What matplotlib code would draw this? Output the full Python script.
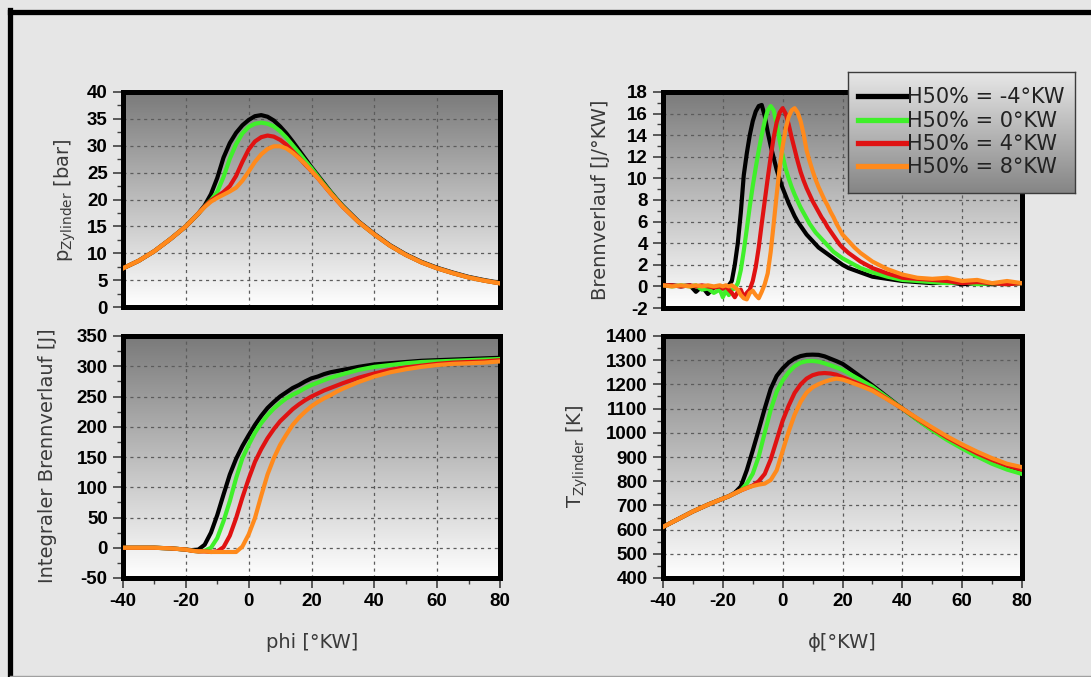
import numpy as np
import matplotlib

matplotlib.use("Agg")
import matplotlib.pyplot as plt
from matplotlib.lines import Line2D
from matplotlib.colors import LinearSegmentedColormap
from matplotlib.ticker import AutoMinorLocator

W, H = 1091, 677

labels = ["H50% = -4°KW", "H50% = 0°KW", "H50% = 4°KW", "H50% = 8°KW"]
colors = ["#000000", "#3ff02a", "#e01212", "#ff8a1c"]

# crank angle grid used for p, integral and T
phi = [-40, -35, -30, -25, -20, -18, -16, -14, -12, -10, -8, -6, -4, -2, 0, 2, 4, 6, 8, 10,
       12, 14, 16, 18, 20, 22, 24, 26, 28, 30, 35, 40, 45, 50, 55, 60, 65, 70, 75, 80]

p_m4 = [7.2, 8.6, 10.4, 12.6, 15.0, 16.2, 17.4, 18.9, 21.0, 24.0, 27.8, 30.5, 32.4, 33.8, 34.8, 35.5, 35.7, 35.4, 34.7, 33.6,
        32.3, 30.8, 29.2, 27.6, 26.0, 24.5, 23.0, 21.5, 20.1, 18.8, 15.9, 13.6, 11.5, 9.8, 8.4, 7.3, 6.4, 5.6, 5.0, 4.5]
p_0 = [7.2, 8.6, 10.4, 12.6, 15.0, 16.2, 17.4, 18.7, 19.9, 21.4, 24.2, 27.6, 30.3, 32.3, 33.5, 34.1, 34.3, 34.1, 33.6, 32.7,
       31.5, 30.1, 28.7, 27.2, 25.8, 24.3, 22.8, 21.4, 20.0, 18.7, 15.8, 13.5, 11.4, 9.7, 8.3, 7.2, 6.3, 5.5, 4.9, 4.4]
p_4 = [7.2, 8.6, 10.4, 12.6, 15.0, 16.2, 17.4, 18.7, 19.8, 20.6, 21.4, 22.5, 24.4, 27.0, 29.3, 30.8, 31.6, 31.9, 31.7, 31.1,
       30.2, 29.0, 27.8, 26.5, 25.3, 24.0, 22.6, 21.2, 19.9, 18.6, 15.8, 13.5, 11.4, 9.7, 8.3, 7.2, 6.3, 5.5, 4.9, 4.4]
p_8 = [7.2, 8.6, 10.4, 12.6, 15.0, 16.2, 17.4, 18.6, 19.6, 20.3, 20.9, 21.5, 22.2, 23.5, 25.2, 27.0, 28.4, 29.4, 29.9, 29.9,
       29.5, 28.7, 27.7, 26.6, 25.3, 24.0, 22.6, 21.2, 19.9, 18.6, 15.8, 13.5, 11.4, 9.7, 8.3, 7.2, 6.3, 5.5, 4.9, 4.4]

q_m4 = [0, 0, 0, -1, -3, -4, -3, 5, 25, 54, 88, 121, 147, 168, 186, 203, 218, 231, 241, 250,
        257, 264, 269, 275, 280, 283, 287, 290, 292, 294, 299, 303, 305, 307, 309, 310, 311, 312, 313, 314]
q_0 = [0, 0, 0, -1, -3, -5, -6, -5, 0, 16, 44, 77, 115, 148, 170, 190, 206, 219, 230, 239,
       247, 253, 258, 264, 269, 273, 277, 281, 284, 287, 294, 299, 302, 305, 307, 308, 309, 310, 311, 312]
q_4 = [0, 0, 0, -1, -3, -5, -6, -6, -7, -6, 1, 20, 49, 83, 114, 142, 163, 181, 196, 209,
       219, 229, 237, 244, 250, 255, 260, 264, 268, 272, 281, 288, 294, 298, 301, 304, 306, 307, 308, 310]
q_8 = [0, 0, 0, -1, -3, -5, -6, -6, -7, -7, -7, -7, -7, 2, 22, 49, 86, 121, 148, 170,
       187, 203, 215, 225, 234, 241, 247, 252, 258, 263, 274, 283, 290, 295, 299, 302, 304, 305, 306, 308]

T_m4 = [611, 643, 675, 703, 728, 738, 752, 778, 845, 927, 1012, 1100, 1182, 1235, 1266, 1290, 1307, 1317, 1322, 1323,
        1322, 1316, 1306, 1296, 1285, 1268, 1250, 1232, 1214, 1196, 1148, 1100, 1055, 1012, 975, 942, 910, 882, 858, 836]
T_0 = [611, 643, 675, 703, 728, 738, 750, 762, 790, 831, 902, 1000, 1095, 1170, 1216, 1250, 1275, 1290, 1296, 1297,
       1294, 1287, 1279, 1270, 1260, 1246, 1232, 1218, 1204, 1190, 1145, 1100, 1053, 1010, 970, 935, 902, 872, 848, 830]
T_4 = [611, 643, 675, 703, 728, 738, 750, 762, 772, 782, 800, 830, 890, 970, 1050, 1112, 1165, 1200, 1224, 1238,
       1245, 1247, 1245, 1240, 1230, 1220, 1210, 1200, 1189, 1178, 1140, 1100, 1058, 1018, 980, 947, 915, 888, 865, 848]
T_8 = [611, 643, 675, 703, 728, 738, 750, 762, 772, 780, 786, 790, 805, 845, 925, 1005, 1075, 1128, 1166, 1188,
       1201, 1211, 1219, 1224, 1220, 1212, 1203, 1194, 1184, 1174, 1138, 1100, 1060, 1022, 985, 952, 922, 895, 872, 858]

# finer grid for the heat release rate
phi_hr = [-40, -37, -34, -31, -29, -27, -25, -23, -21,
          -20, -19, -18, -17, -16, -15, -14, -13, -12, -11, -10, -9, -8, -7, -6, -5, -4, -3, -2, -1,
          0, 1, 2, 3, 4, 5, 6, 7, 8, 9, 10, 11, 12, 13, 14, 15, 16, 17, 18, 19, 20,
          22, 24, 26, 28, 30, 35, 40, 45, 50, 55, 60, 65, 70, 75, 80]

dq_m4 = [0.1, 0.1, 0.0, 0.1, -0.5, 0.0, -0.7, -0.1, 0.0,
         -0.2, 0.0, 0.1, 0.5, 2.0, 4.0, 6.8, 10.3, 12.3, 14.0, 15.3, 16.2, 16.7, 16.8, 15.8, 14.3, 13.0, 11.9, 10.8, 9.9,
         9.1, 8.4, 7.7, 7.1, 6.5, 6.0, 5.6, 5.2, 4.8, 4.5, 4.2, 3.9, 3.6, 3.4, 3.2, 3.0, 2.8, 2.6, 2.4, 2.2, 2.0,
         1.7, 1.5, 1.3, 1.1, 0.9, 0.7, 0.5, 0.4, 0.3, 0.4, 0.2, 0.3, 0.2, 0.3, 0.3]
dq_0 = [0.1, 0.0, 0.1, 0.0, 0.1, -0.3, -0.2, -0.6, -0.3,
        -1.0, -0.4, -0.8, -0.3, -0.2, 0.3, 1.5, 3.3, 5.3, 7.4, 9.3, 11.0, 12.6, 14.0, 15.3, 16.3, 16.7, 16.3, 15.0, 13.5,
        12.1, 10.9, 10.0, 9.2, 8.5, 7.9, 7.3, 6.8, 6.3, 5.8, 5.4, 5.0, 4.7, 4.4, 4.1, 3.8, 3.5, 3.2, 3.0, 2.8, 2.6,
        2.3, 2.0, 1.7, 1.5, 1.3, 0.9, 0.6, 0.5, 0.4, 0.3, 0.4, 0.2, 0.3, 0.2, 0.3]
dq_4 = [0.1, 0.1, 0.0, 0.1, 0.0, 0.1, 0.0, -0.1, 0.0,
        -0.2, 0.0, -0.3, -0.6, -1.0, -0.5, -0.3, -1.0, -0.6, -0.3, 0.5, 1.8, 3.6, 5.8, 7.9, 10.0, 12.0, 13.8, 15.2, 16.1,
        16.5, 16.0, 15.0, 13.8, 12.7, 11.6, 10.6, 9.8, 9.1, 8.5, 7.9, 7.4, 6.9, 6.4, 6.0, 5.5, 5.1, 4.7, 4.3, 3.9, 3.6,
        3.1, 2.7, 2.3, 2.0, 1.7, 1.2, 0.8, 0.7, 0.6, 0.5, 0.3, 0.4, 0.3, 0.2, 0.3]
dq_8 = [0.1, 0.0, 0.1, 0.0, 0.1, 0.0, 0.1, 0.0, 0.1,
        0.0, 0.1, 0.0, 0.1, -0.1, -0.3, -0.8, -1.1, -1.2, -0.6, -0.4, -0.8, -1.1, -0.5, 0.2, 1.2, 3.2, 5.8, 8.5, 11.0,
        13.0, 14.6, 15.7, 16.3, 16.5, 16.1, 15.3, 14.1, 12.6, 11.6, 10.7, 9.9, 9.2, 8.6, 8.0, 7.5, 6.9, 6.4, 5.8, 5.3, 4.8,
        4.2, 3.6, 3.1, 2.7, 2.3, 1.6, 1.1, 0.8, 0.7, 0.8, 0.5, 0.6, 0.3, 0.5, 0.3]

BG = "#e6e6e6"
TICK_FONT = dict(fontfamily="Liberation Sans", fontweight="bold", fontsize=13.5)
LABEL_FONT = dict(fontfamily="DejaVu Sans", fontsize=14, color="#3a3a3a")

plot_cmap = LinearSegmentedColormap.from_list("plotbg", ["#7a7a7a", "#ffffff"])
legend_cmap = LinearSegmentedColormap.from_list("legbg", ["#e8e8e8", "#858585"])
ramp = np.linspace(0, 1, 256).reshape(-1, 1)


def px_axes(fig, x0, y0, x1, y1):
    return fig.add_axes([x0 / W, 1 - y1 / H, (x1 - x0) / W, (y1 - y0) / H])


def style(ax, yticks, show_x):
    ax.imshow(ramp, cmap=plot_cmap, extent=[0, 1, 0, 1], transform=ax.transAxes,
              aspect="auto", zorder=0, interpolation="bilinear")
    xticks = [-40, -20, 0, 20, 40, 60, 80]
    ax.set_xlim(-40, 80)
    ax.set_ylim(yticks[0], yticks[-1])
    ax.set_xticks(xticks)
    ax.set_yticks(yticks)
    ax.set_yticklabels([str(t) for t in yticks], **TICK_FONT)
    ax.yaxis.set_minor_locator(AutoMinorLocator(2))
    ax.xaxis.set_minor_locator(AutoMinorLocator(2))
    ax.tick_params(which="major", direction="out", length=7, width=1.2, color="#404040", pad=4)
    ax.tick_params(which="minor", direction="out", length=4, width=1.0, color="#404040")
    if show_x:
        ax.set_xticklabels([str(t) for t in xticks], **TICK_FONT)
    else:
        ax.set_xticklabels([])
        ax.tick_params(axis="x", which="both", length=0)
    ax.grid(True, which="major", color="#5c5c5c", linestyle=(0, (2.5, 3)), linewidth=0.9)
    ax.set_axisbelow(True)
    for sp in ax.spines.values():
        sp.set_linewidth(3.6)
        sp.set_color("black")


fig = plt.figure(figsize=(W / 100, H / 100), dpi=100, facecolor=BG)

ax_p = px_axes(fig, 123, 92, 500, 307)
ax_dq = px_axes(fig, 663, 92, 1022, 308)
ax_q = px_axes(fig, 123, 336, 500, 578)
ax_T = px_axes(fig, 663, 336, 1022, 578)

for series, ax in [([p_m4, p_0, p_4, p_8], ax_p), ([q_m4, q_0, q_4, q_8], ax_q), ([T_m4, T_0, T_4, T_8], ax_T)]:
    for values, color in zip(series, colors):
        ax.plot(phi, values, color=color, lw=3.0, solid_joinstyle="round", zorder=3)

handles = []
for values, color, label in zip([dq_m4, dq_0, dq_4, dq_8], colors, labels):
    line, = ax_dq.plot(phi_hr, values, color=color, lw=3.0, solid_joinstyle="round", zorder=3, label=label)
    handles.append(line)

style(ax_p, [0, 5, 10, 15, 20, 25, 30, 35, 40], False)
style(ax_dq, [-2, 0, 2, 4, 6, 8, 10, 12, 14, 16, 18], False)
style(ax_q, [-50, 0, 50, 100, 150, 200, 250, 300, 350], True)
style(ax_T, [400, 500, 600, 700, 800, 900, 1000, 1100, 1200, 1300, 1400], True)

# axis labels
fig.text(65 / W, 1 - 200 / H, r"p$_{\mathrm{Zylinder}}$ [bar]", rotation=90, ha="center", va="center", **LABEL_FONT)
fig.text(600 / W, 1 - 200 / H, "Brennverlauf [J/°KW]", rotation=90, ha="center", va="center", **LABEL_FONT)
fig.text(48 / W, 1 - 456 / H, "Integraler Brennverlauf [J]", rotation=90, ha="center", va="center", **LABEL_FONT)
fig.text(577 / W, 1 - 456 / H, r"T$_{\mathrm{Zylinder}}$ [K]", rotation=90, ha="center", va="center", **LABEL_FONT)
fig.text(312 / W, 1 - 642 / H, "phi [°KW]", ha="center", va="center", **LABEL_FONT)
fig.text(842 / W, 1 - 642 / H, "ϕ[°KW]", ha="center", va="center", **LABEL_FONT)

# legend box with gradient
lax = px_axes(fig, 848, 72, 1075, 193)
lax.set_zorder(10)
lax.imshow(ramp, cmap=legend_cmap, extent=[0, 1, 0, 1], transform=lax.transAxes, aspect="auto",
           interpolation="bilinear")
lax.set_xlim(0, 1)
lax.set_ylim(0, 1)
lax.set_xticks([])
lax.set_yticks([])
for sp in lax.spines.values():
    sp.set_linewidth(1.0)
    sp.set_color("#3c3c3c")
leg = lax.legend(handles=handles, loc="center", frameon=False, fontsize=15, handlelength=2.3,
                 handletextpad=0.05, labelspacing=0.16, borderpad=0.2)
for t in leg.get_texts():
    t.set_color("#222222")
for ln in leg.get_lines():
    ln.set_linewidth(3.8)

# outer frame
fig.add_artist(Line2D([10 / W, 1.0], [1 - 12 / H, 1 - 12 / H], color="black", lw=3.8, transform=fig.transFigure))
fig.add_artist(Line2D([10 / W, 10 / W], [1 - 10 / H, 1 - 676 / H], color="black", lw=3.8, transform=fig.transFigure))
fig.add_artist(Line2D([10 / W, 1.0], [1 - 675.5 / H, 1 - 675.5 / H], color="#a0a0a0", lw=1.0, transform=fig.transFigure))

fig.savefig("out.png", dpi=100, facecolor=BG)
